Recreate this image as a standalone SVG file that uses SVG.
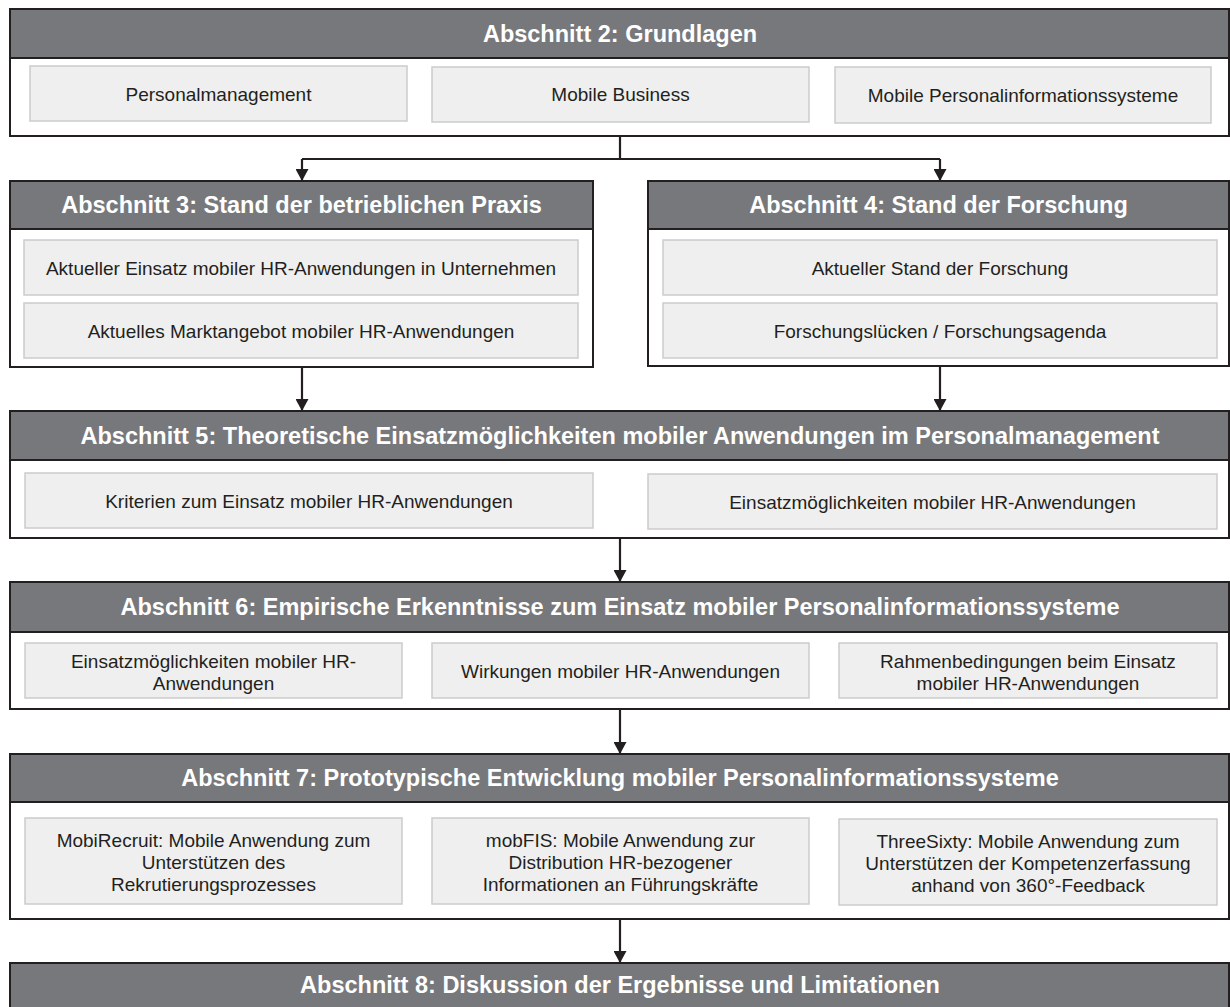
<svg xmlns="http://www.w3.org/2000/svg" width="1230" height="1007" viewBox="0 0 1230 1007">
<style>
.outer{fill:#ffffff;stroke:#231f20;stroke-width:2}
.head{fill:#77787b;stroke:#231f20;stroke-width:2}
.inner{fill:#efefef;stroke:#cccccc;stroke-width:1.5}
.ht{font-family:"Liberation Sans",Arial,sans-serif;font-weight:bold;font-size:23.5px;fill:#ffffff;text-anchor:middle}
.bt{font-family:"Liberation Sans",Arial,sans-serif;font-size:19px;fill:#231f20;text-anchor:middle}
.conn{fill:none;stroke:#231f20;stroke-width:2.2}
</style>
<defs>
<marker id="arr" markerUnits="userSpaceOnUse" markerWidth="12" markerHeight="13" refX="12" refY="6.5" orient="auto">
<path d="M0,0 L12,6.5 L0,13 z" fill="#231f20"/>
</marker>
</defs>
<rect x="0" y="0" width="1230" height="1007" fill="#ffffff"/>

<g id="connectors">
<path class="conn" d="M620,136 V159 M302,159 H940"/>
<path class="conn" d="M302,159 V181" marker-end="url(#arr)"/>
<path class="conn" d="M940,159 V181" marker-end="url(#arr)"/>
<path class="conn" d="M302,367 V411" marker-end="url(#arr)"/>
<path class="conn" d="M940,366 V411" marker-end="url(#arr)"/>
<path class="conn" d="M620,538 V582" marker-end="url(#arr)"/>
<path class="conn" d="M620,709 V754" marker-end="url(#arr)"/>
<path class="conn" d="M620,919 V963" marker-end="url(#arr)"/>
</g>

<g id="s2">
<rect class="outer" x="10" y="9" width="1219" height="127"/>
<rect class="head" x="10" y="9" width="1219" height="49"/>
<text class="ht" x="620" y="42">Abschnitt 2: Grundlagen</text>
</g>
<g id="s2a"><rect class="inner" x="30" y="66" width="377" height="55"/><text class="bt" x="218.5" y="100.5">Personalmanagement</text></g>
<g id="s2b"><rect class="inner" x="432" y="67" width="377" height="55"/><text class="bt" x="620.5" y="101">Mobile Business</text></g>
<g id="s2c"><rect class="inner" x="835" y="67" width="376" height="56"/><text class="bt" x="1023" y="101.5">Mobile Personalinformationssysteme</text></g>

<g id="s3">
<rect class="outer" x="10" y="181" width="583" height="186"/>
<rect class="head" x="10" y="181" width="583" height="48"/>
<text class="ht" x="301.5" y="213">Abschnitt 3: Stand der betrieblichen Praxis</text>
</g>
<g id="s3a"><rect class="inner" x="24" y="240" width="554" height="55"/><text class="bt" x="301" y="274.5">Aktueller Einsatz mobiler HR-Anwendungen in Unternehmen</text></g>
<g id="s3b"><rect class="inner" x="24" y="303" width="554" height="55"/><text class="bt" x="301" y="337.5">Aktuelles Marktangebot mobiler HR-Anwendungen</text></g>

<g id="s4">
<rect class="outer" x="648" y="181" width="581" height="185"/>
<rect class="head" x="648" y="181" width="581" height="48"/>
<text class="ht" x="938.5" y="213">Abschnitt 4: Stand der Forschung</text>
</g>
<g id="s4a"><rect class="inner" x="663" y="240" width="554" height="55"/><text class="bt" x="940" y="274.5">Aktueller Stand der Forschung</text></g>
<g id="s4b"><rect class="inner" x="663" y="303" width="554" height="55"/><text class="bt" x="940" y="337.5">Forschungslücken / Forschungsagenda</text></g>

<g id="s5">
<rect class="outer" x="10" y="411" width="1219" height="127"/>
<rect class="head" x="10" y="411" width="1219" height="49"/>
<text class="ht" x="620" y="444">Abschnitt 5: Theoretische Einsatzmöglichkeiten mobiler Anwendungen im Personalmanagement</text>
</g>
<g id="s5a"><rect class="inner" x="25" y="473" width="568" height="55"/><text class="bt" x="309" y="507.5">Kriterien zum Einsatz mobiler HR-Anwendungen</text></g>
<g id="s5b"><rect class="inner" x="648" y="474" width="569" height="55"/><text class="bt" x="932.5" y="508.5">Einsatzmöglichkeiten mobiler HR-Anwendungen</text></g>

<g id="s6">
<rect class="outer" x="10" y="582" width="1219" height="127"/>
<rect class="head" x="10" y="582" width="1219" height="50"/>
<text class="ht" x="620" y="615">Abschnitt 6: Empirische Erkenntnisse zum Einsatz mobiler Personalinformationssysteme</text>
</g>
<g id="s6a"><rect class="inner" x="25" y="643" width="377" height="55"/><text class="bt" x="213.5" y="668">Einsatzmöglichkeiten mobiler HR-</text><text class="bt" x="213.5" y="690">Anwendungen</text></g>
<g id="s6b"><rect class="inner" x="432" y="643" width="377" height="55"/><text class="bt" x="620.5" y="677.5">Wirkungen mobiler HR-Anwendungen</text></g>
<g id="s6c"><rect class="inner" x="839" y="643" width="378" height="55"/><text class="bt" x="1028" y="668">Rahmenbedingungen beim Einsatz</text><text class="bt" x="1028" y="690">mobiler HR-Anwendungen</text></g>

<g id="s7">
<rect class="outer" x="10" y="754" width="1219" height="165"/>
<rect class="head" x="10" y="754" width="1219" height="48"/>
<text class="ht" x="620" y="786">Abschnitt 7: Prototypische Entwicklung mobiler Personalinformationssysteme</text>
</g>
<g id="s7a"><rect class="inner" x="25" y="818" width="377" height="86"/><text class="bt" x="213.5" y="846.5">MobiRecruit: Mobile Anwendung zum</text><text class="bt" x="213.5" y="868.5">Unterstützen des</text><text class="bt" x="213.5" y="890.5">Rekrutierungsprozesses</text></g>
<g id="s7b"><rect class="inner" x="432" y="818" width="377" height="86"/><text class="bt" x="620.5" y="846.5">mobFIS: Mobile Anwendung zur</text><text class="bt" x="620.5" y="868.5">Distribution HR-bezogener</text><text class="bt" x="620.5" y="890.5">Informationen an Führungskräfte</text></g>
<g id="s7c"><rect class="inner" x="839" y="819" width="378" height="86"/><text class="bt" x="1028" y="847.5">ThreeSixty: Mobile Anwendung zum</text><text class="bt" x="1028" y="869.5">Unterstützen der Kompetenzerfassung</text><text class="bt" x="1028" y="891.5">anhand von 360°-Feedback</text></g>

<g id="s8">
<rect class="head" x="10" y="963" width="1219" height="50"/>
<text class="ht" x="620" y="993">Abschnitt 8: Diskussion der Ergebnisse und Limitationen</text>
</g>
</svg>
